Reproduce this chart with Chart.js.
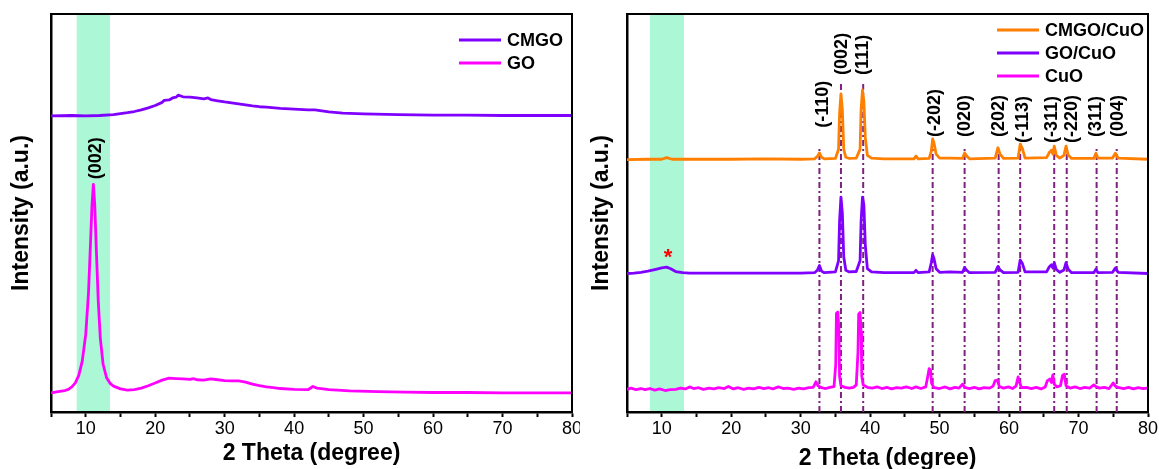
<!DOCTYPE html>
<html>
<head>
<meta charset="utf-8">
<title>XRD patterns</title>
<script src="https://cdn.jsdelivr.net/npm/chart.js@4.4.1/dist/chart.umd.min.js"></script>
<style>
  html, body { margin: 0; padding: 0; background: #fff; }
  #wrap { position: relative; width: 1159px; height: 469px; overflow: hidden; }
  .panel { position: absolute; top: 0; height: 469px; }
  #left { left: 0; width: 580px; }
  #right { left: 580px; width: 579px; }
</style>
</head>
<body>
<div id="wrap">
  <div class="panel" id="left"><canvas id="xrdLeft" width="580" height="469"></canvas></div>
  <div class="panel" id="right"><canvas id="xrdRight" width="579" height="469"></canvas></div>
</div>
<script>
/* === XRD data (2θ in degrees, intensity in a.u. with stacking offset) === */

var THETA_MIN = 5;
var THETA_MAX = 80;

// shaded GO (002) region on each panel
var goBandLeft = [8.7, 13.5];
var goBandRight = [8.3, 13.2];

var cmgoPattern = [
  [5, 74.4], [8, 74.5], [10, 74.4], [12, 74.5], [14, 74.7], [16, 75.2], [17, 75.5],
  [18, 75.9], [19, 76.4], [20, 77.0], [21, 77.8], [21.3, 78.3], [22, 78.4], [22.5, 78.9],
  [23, 79.1], [23.3, 79.6], [24, 79.2], [25, 79.1], [26, 78.9], [27, 78.7], [27.6, 78.9],
  [28, 78.5], [29, 78.2], [30, 77.9], [32, 77.4], [34, 76.9], [35, 76.7], [36, 76.6],
  [38, 76.3], [40, 76.1], [42, 75.9], [43, 75.9], [45, 75.4], [47, 75.1], [50, 74.9],
  [55, 74.7], [60, 74.6], [65, 74.6], [70, 74.5], [75, 74.5], [80, 74.5]
];

var goPattern = [
  [5, 4.8], [6, 5.1], [7, 5.4], [7.5, 5.7], [8, 6.3], [8.5, 7.3], [9, 9.2], [9.5, 12.8],
  [10, 19.5], [10.4, 30], [10.7, 43], [10.9, 52], [11.1, 57.2], [11.3, 52], [11.5, 42],
  [11.8, 28], [12.1, 18.5], [12.5, 12], [13, 8.6], [13.5, 7.2], [14, 6.5], [15, 5.8],
  [16, 5.5], [17, 5.6], [18, 6.0], [19, 6.6], [20, 7.3], [21, 8.0], [22, 8.5], [23, 8.4],
  [24, 8.3], [25, 8.2], [25.5, 8.4], [26, 8.1], [27, 8.0], [28, 8.3], [29, 8.1], [30, 7.9],
  [31, 7.8], [32, 7.8], [33, 7.5], [34, 7.0], [35, 6.6], [36, 6.3], [37, 6.1], [38, 5.9],
  [40, 5.7], [42, 5.6], [42.7, 6.4], [43.3, 6.0], [45, 5.6], [48, 5.3], [52, 5.1],
  [56, 5.0], [60, 4.9], [65, 4.9], [70, 4.8], [75, 4.8], [80, 4.8]
];

var cmgoCuoPattern = [
  [5, 63.4], [8, 63.5], [10, 63.5], [10.7, 63.9], [11.5, 63.5], [15, 63.5], [20, 63.5],
  [25, 63.6], [30, 63.5], [32, 63.6], [32.4, 64.2], [32.7, 65.1], [33.0, 64.0], [33.4, 63.6],
  [35.0, 63.7], [35.45, 66], [35.6, 75], [35.8, 79.9], [36.0, 76], [36.2, 66], [36.5, 64.0],
  [37, 63.7], [38, 63.8], [38.55, 66], [38.7, 76], [38.9, 80.9], [39.1, 78], [39.3, 69],
  [39.6, 64.5], [40.2, 63.8], [42, 63.6], [46.3, 63.6], [46.6, 64.3], [46.9, 63.6],
  [48.5, 63.7], [48.8, 65.5], [49.0, 68.6], [49.2, 67.5], [49.5, 64.8], [50.0, 63.8],
  [51.5, 63.8], [53.3, 63.7], [53.6, 65.1], [53.9, 64.3], [54.3, 63.6], [58.0, 63.8],
  [58.4, 66.4], [58.7, 64.8], [59.2, 63.7], [61.3, 63.8], [61.6, 67.3], [61.9, 66.3],
  [62.3, 63.8], [65.4, 63.9], [65.8, 65.2], [66.1, 65.8], [66.3, 64.8], [66.5, 66.8],
  [66.8, 64.5], [67.3, 63.8], [67.9, 64.5], [68.2, 66.8], [68.5, 64.6], [69.0, 63.7],
  [72.2, 63.7], [72.5, 65.0], [72.8, 63.8], [74.9, 63.8], [75.3, 65.0], [75.7, 63.8],
  [80, 63.5]
];

var goCuoPattern = [
  [5, 34.8], [6, 34.9], [7, 35.1], [8, 35.4], [9, 35.8], [10, 36.2], [10.7, 36.4],
  [11.3, 36.0], [12, 35.3], [13, 35.0], [14, 34.9], [20, 34.9], [25, 34.9], [30, 34.9],
  [32, 35.0], [32.4, 35.6], [32.7, 36.8], [33.0, 35.4], [33.4, 35.0], [35.0, 35.2],
  [35.45, 38], [35.6, 48], [35.8, 54.0], [36.0, 50], [36.2, 39], [36.5, 35.6], [37, 35.2],
  [38, 35.3], [38.55, 38], [38.7, 48], [38.9, 54.0], [39.1, 52], [39.3, 42], [39.6, 36.0],
  [40.2, 35.2], [42, 35.0], [46.3, 35.0], [46.6, 35.6], [46.9, 35.0], [48.5, 35.2],
  [48.8, 37.5], [49.0, 39.5], [49.2, 38.5], [49.5, 36.0], [50.0, 35.1], [51.5, 35.2],
  [53.3, 35.1], [53.6, 36.3], [53.9, 35.6], [54.3, 35.0], [58.0, 35.1], [58.4, 36.6],
  [58.7, 35.7], [59.2, 35.0], [61.3, 35.1], [61.6, 38.2], [61.9, 37.4], [62.3, 35.2],
  [65.4, 35.2], [65.8, 36.5], [66.1, 37.0], [66.3, 36.2], [66.5, 37.5], [66.8, 35.8],
  [67.3, 35.1], [67.9, 35.7], [68.2, 37.5], [68.5, 35.9], [69.0, 35.0], [72.2, 35.0],
  [72.5, 35.9], [72.8, 35.0], [74.9, 35.1], [75.3, 36.2], [75.7, 35.1], [80, 34.8]
];

var cuoPattern = [
  [5, 5.7], [5.6, 6.0], [6.3, 5.6], [7, 5.9], [7.6, 5.6], [8.3, 5.9], [9, 5.5], [9.7, 5.8],
  [10.5, 5.4], [11.2, 5.6], [12, 5.7], [12.7, 6.0], [13.4, 5.8], [14, 6.3], [14.6, 5.9],
  [15.3, 6.1], [16, 5.7], [16.8, 6.0], [17.5, 5.8], [18.2, 6.1], [19, 5.9], [19.6, 6.4],
  [20.3, 5.8], [21, 6.1], [21.8, 5.7], [22.5, 6.0], [23.2, 5.8], [24, 6.2], [24.7, 5.9],
  [25.4, 6.1], [26, 5.8], [26.8, 6.3], [27.5, 5.9], [28.2, 6.0], [29, 5.7], [29.7, 6.0],
  [30.4, 5.8], [31.2, 6.1], [31.8, 6.2], [32.2, 7.6], [32.5, 6.6], [33, 6.1], [33.6, 5.9],
  [34.2, 6.2], [34.8, 6.4], [35.05, 12], [35.15, 24.8], [35.35, 25.1], [35.5, 21],
  [35.6, 9], [35.8, 6.6], [36.4, 6.2], [37, 6.0], [37.6, 6.2], [38.0, 6.8], [38.25, 15],
  [38.35, 24.6], [38.55, 25.0], [38.7, 20], [38.8, 9], [39.0, 6.8], [39.6, 6.2], [40.3, 6.0],
  [41, 6.3], [41.7, 5.9], [42.4, 6.2], [43.1, 5.8], [43.8, 6.1], [44.5, 6.0], [45.2, 6.3],
  [46, 5.9], [46.6, 6.3], [47.3, 5.9], [48.0, 6.3], [48.3, 9], [48.5, 10.9], [48.7, 10.5],
  [48.85, 7.2], [49.2, 6.1], [50, 5.9], [50.8, 6.3], [51.5, 5.8], [52.2, 6.2], [52.8, 6.0],
  [53.3, 7.0], [53.6, 6.2], [54.3, 5.9], [55, 6.2], [55.7, 5.8], [56.4, 6.1], [57.2, 6.0],
  [57.7, 6.5], [58.0, 7.9], [58.3, 8.0], [58.6, 6.4], [59.2, 6.0], [59.9, 6.3], [60.5, 5.9],
  [61.0, 6.5], [61.3, 8.8], [61.5, 7.5], [61.8, 6.1], [62.5, 6.2], [63.2, 5.9], [63.9, 6.2],
  [64.6, 5.8], [65.2, 6.3], [65.5, 7.8], [65.9, 8.3], [66.1, 7.4], [66.3, 9.3], [66.5, 7.0],
  [66.9, 6.3], [67.4, 6.6], [67.7, 9.2], [67.95, 9.5], [68.2, 6.6], [68.8, 6.0], [69.5, 6.3],
  [70.2, 5.9], [70.9, 6.2], [71.6, 6.0], [72.2, 6.8], [72.5, 6.4], [73.0, 6.0], [73.7, 6.2],
  [74.4, 5.9], [75.0, 7.3], [75.3, 6.5], [75.8, 6.1], [76.5, 5.9], [77.2, 6.2], [77.9, 5.8],
  [78.6, 6.1], [79.3, 5.9], [80, 6.0]
];

// CuO reflections: reference line position, line top, label anchor
var planeLabels = ['(-110)', '(002)', '(111)', '(-202)', '(020)', '(202)', '(-113)', '(-311)', '(-220)', '(311)', '(004)'];
var planeTheta = [32.7, 35.8, 39.0, 49.0, 53.6, 58.5, 61.6, 66.5, 68.3, 72.6, 75.5];
var planeLineTop = [66.8, 82.9, 82.9, 66.8, 66.6, 66.6, 67.6, 66.6, 66.6, 66.6, 66.6];
var planeLabelTheta = [33.2, 35.9, 39.0, 49.3, 53.6, 58.5, 62.0, 66.2, 69.1, 72.5, 75.7];
var planeLabelBase = [71.4, 84.7, 84.7, 69.1, 69.1, 69.1, 67.6, 67.6, 67.6, 69.1, 69.1];

// GO (002) tag on the left panel, residual GO mark on the right one
var goPeakLabel = { text: '(002)', theta: 11.45, value: 58.5 };
var goResidualMark = { text: '*', theta: 10.9, value: 38.7 };

/* === Chart helpers === */

var FONT = "'Liberation Sans', Arial, Helvetica, sans-serif";
var PURPLE = '#7f00ff';
var MAGENTA = '#ff00ff';
var ORANGE = '#ff7f00';
var PLANE_COLOR = '#7e2180';
var BAND_COLOR = '#abf7d6';

function toXY(pairs) {
  return pairs.map(function (p) { return { x: p[0], y: p[1] }; });
}

function patternDataset(label, pairs, color) {
  return {
    label: label,
    data: toXY(pairs),
    borderColor: color,
    backgroundColor: color,
    borderWidth: 2.8,
    pointRadius: 0,
    tension: 0,
    fill: false,
    borderJoinStyle: 'round'
  };
}

function planeLineDatasets() {
  return planeTheta.map(function (t, i) {
    return {
      label: planeLabels[i],
      data: [{ x: t, y: 0 }, { x: t, y: planeLineTop[i] }],
      borderColor: PLANE_COLOR,
      borderWidth: 2,
      borderDash: [6, 3, 2, 3],
      pointRadius: 0,
      fill: false
    };
  });
}

function buildScales(yWidth, titleBottom) {
  return {
    x: {
      type: 'linear',
      min: THETA_MIN,
      max: THETA_MAX,
      ticks: {
        stepSize: 5,
        autoSkip: false,
        maxRotation: 0,
        padding: 1,
        color: '#000',
        font: { family: FONT, size: 18 },
        callback: function (v) { return v % 10 === 0 ? String(v) : ''; }
      },
      grid: { drawOnChartArea: false, drawTicks: true, tickLength: 5, tickWidth: 2, tickColor: '#000' },
      border: { display: true, color: '#000', width: 2.5 },
      title: {
        display: true,
        text: '2 Theta (degree)',
        color: '#000',
        font: { family: FONT, size: 23, weight: 'bold' },
        padding: { top: 0, bottom: titleBottom }
      },
      afterFit: function (s) { s.height = 57; s.paddingLeft = 0; s.paddingRight = 0; }
    },
    y: {
      type: 'linear',
      min: 0,
      max: 100,
      ticks: { display: false },
      grid: { display: false, drawTicks: false },
      border: { display: true, color: '#000', width: 2.5 },
      title: {
        display: true,
        text: 'Intensity (a.u.)',
        color: '#000',
        font: { family: FONT, size: 23, weight: 'bold' },
        padding: { top: 8, bottom: 0 }
      },
      afterFit: function (s) { s.width = yWidth; }
    }
  };
}

// shaded 2θ window behind everything
function bandPlugin(range) {
  return {
    id: 'goBand',
    beforeDraw: function (chart) {
      var ctx = chart.ctx, a = chart.chartArea, xs = chart.scales.x;
      var x0 = xs.getPixelForValue(range[0]);
      var x1 = xs.getPixelForValue(range[1]);
      ctx.save();
      ctx.fillStyle = BAND_COLOR;
      ctx.fillRect(x0, a.top, x1 - x0, a.bottom - a.top);
      ctx.restore();
    }
  };
}

// closes the box on the top and right sides
var framePlugin = {
  id: 'frame',
  afterDraw: function (chart) {
    var ctx = chart.ctx, a = chart.chartArea;
    ctx.save();
    ctx.strokeStyle = '#000';
    ctx.lineWidth = 2;
    ctx.beginPath();
    ctx.moveTo(a.left, a.top);
    ctx.lineTo(a.right, a.top);
    ctx.lineTo(a.right, a.bottom);
    ctx.stroke();
    ctx.restore();
  }
};

// text placed in data coordinates; rotated ones read bottom to top
function textPlugin(items) {
  return {
    id: 'peakText',
    afterDatasetsDraw: function (chart) {
      var ctx = chart.ctx, xs = chart.scales.x, ys = chart.scales.y;
      ctx.save();
      items.forEach(function (it) {
        var x = xs.getPixelForValue(it.theta);
        var y = ys.getPixelForValue(it.value);
        ctx.font = it.font;
        ctx.fillStyle = it.color;
        ctx.textBaseline = 'middle';
        if (it.rotate) {
          ctx.save();
          ctx.translate(x, y);
          ctx.rotate(-Math.PI / 2);
          ctx.textAlign = 'left';
          ctx.fillText(it.text, 0, 0);
          ctx.restore();
        } else {
          ctx.textAlign = 'center';
          ctx.fillText(it.text, x, y);
        }
      });
      ctx.restore();
    }
  };
}

// line-sample legend in the upper right corner
function legendPlugin(count, offsetRight, offsetTop, rowGap) {
  return {
    id: 'sampleLegend',
    afterDraw: function (chart) {
      var ctx = chart.ctx, a = chart.chartArea;
      var x0 = a.right - offsetRight;
      ctx.save();
      ctx.font = 'bold 18px ' + FONT;
      ctx.textAlign = 'left';
      ctx.textBaseline = 'middle';
      for (var i = 0; i < count; i++) {
        var ds = chart.data.datasets[i];
        var y = a.top + offsetTop + i * rowGap;
        ctx.strokeStyle = ds.borderColor;
        ctx.lineWidth = 3;
        ctx.beginPath();
        ctx.moveTo(x0, y);
        ctx.lineTo(x0 + 42, y);
        ctx.stroke();
        ctx.fillStyle = '#000';
        ctx.fillText(ds.label, x0 + 48, y + 1);
      }
      ctx.restore();
    }
  };
}

function createXrdChart(canvasId, datasets, yWidth, padRight, titleBottom, plugins) {
  var ctx = document.getElementById(canvasId);
  return new Chart(ctx, {
    type: 'line',
    data: { datasets: datasets },
    options: {
      responsive: false,
      animation: false,
      devicePixelRatio: 1,
      layout: { padding: { top: 14, right: padRight, bottom: 0, left: 0 } },
      plugins: { legend: { display: false }, tooltip: { enabled: false } },
      scales: buildScales(yWidth, titleBottom)
    },
    plugins: plugins
  });
}

/* === Panels === */

createXrdChart('xrdLeft', [
  patternDataset('CMGO', cmgoPattern, PURPLE),
  patternDataset('GO', goPattern, MAGENTA)
], 51, 8, 2, [
  bandPlugin(goBandLeft),
  framePlugin,
  textPlugin([{
    text: goPeakLabel.text, theta: goPeakLabel.theta, value: goPeakLabel.value,
    rotate: true, color: '#000', font: 'bold 18px ' + FONT
  }]),
  legendPlugin(2, 113, 26, 23)
]);

var rightLabels = planeLabels.map(function (txt, i) {
  return {
    text: txt, theta: planeLabelTheta[i], value: planeLabelBase[i],
    rotate: true, color: '#000', font: 'bold 18px ' + FONT
  };
});
rightLabels.push({
  text: goResidualMark.text, theta: goResidualMark.theta, value: goResidualMark.value,
  rotate: false, color: '#ff0000', font: 'bold 22px ' + FONT
});

createXrdChart('xrdRight', [
  patternDataset('CMGO/CuO', cmgoCuoPattern, ORANGE),
  patternDataset('GO/CuO', goCuoPattern, PURPLE),
  patternDataset('CuO', cuoPattern, MAGENTA)
].concat(planeLineDatasets()), 47, 11, -3, [
  bandPlugin(goBandRight),
  framePlugin,
  textPlugin(rightLabels),
  legendPlugin(3, 151, 16, 23)
]);
</script>
</body>
</html>
